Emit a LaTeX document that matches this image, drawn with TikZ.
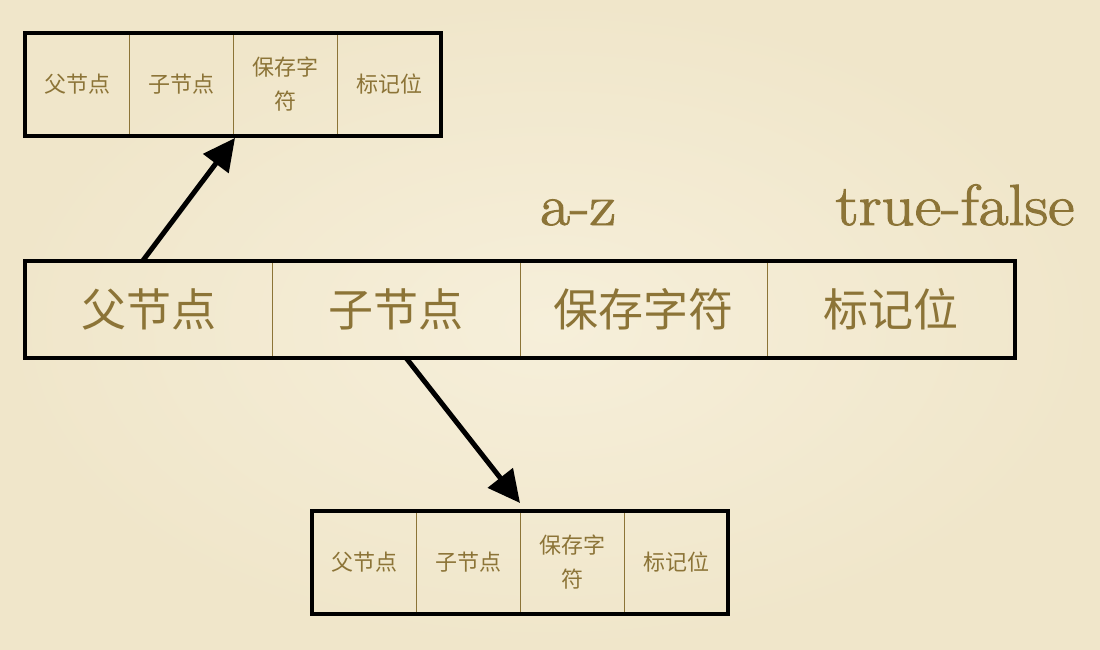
\documentclass[tikz,border=0pt]{standalone}
\usepackage{fontspec}
\newfontfamily\cjk{Noto Sans CJK SC}
\newfontfamily\latinbig[FakeBold=1.6]{Latin Modern Roman}
\usetikzlibrary{arrows.meta,calc,fit}
\definecolor{bgin}{HTML}{F6EFDA}
\definecolor{bgout}{HTML}{F0E6CA}
\definecolor{olive}{HTML}{8C7437}
\tikzset{
  cellbig/.style={draw=olive, line width=0.9pt, inner sep=0pt, outer sep=0pt,
    minimum width=247.5pt, minimum height=97pt, text=olive,
    font=\cjk\fontsize{45}{48}\selectfont},
  cellsmall/.style={draw=olive, line width=0.9pt, inner sep=0pt, outer sep=0pt,
    minimum width=104pt, minimum height=103pt, text=olive, align=center,
    font=\cjk\fontsize{22}{34}\selectfont},
  frame/.style={draw=black, line width=4pt, inner sep=0pt, outer sep=0pt},
  arr/.style={draw=black, line width=5pt, -{Triangle[length=32pt,width=31pt]}},
  biglabel/.style={text=olive, anchor=base, inner sep=0pt, font=\latinbig\fontsize{58}{62}\selectfont}
}
\begin{document}
\begin{tikzpicture}[x=1pt,y=-1pt]
\shade[inner color=bgin, outer color=bgout] (0,0) rectangle (1100,650);
\useasboundingbox (0,0) rectangle (1100,650);
% top box
\node[cellsmall] (t1) at (77,84.5) {父节点};
\node[cellsmall] (t2) at (181,84.5) {子节点};
\node[cellsmall] (t3) at (285,84.5) {保存字\\符};
\node[cellsmall] (t4) at (389,84.5) {标记位};
\node[frame, fit=(t1)(t4)] (top) {};
% middle box
\node[cellbig] (m1) at (148.75,309.5) {父节点};
\node[cellbig] (m2) at (396.25,309.5) {子节点};
\node[cellbig] (m3) at (643.75,309.5) {保存字符};
\node[cellbig] (m4) at (891.25,309.5) {标记位};
\node[frame, fit=(m1)(m4)] (mid) {};
% bottom box
\node[cellsmall] (b1) at (364,562.5) {父节点};
\node[cellsmall] (b2) at (468,562.5) {子节点};
\node[cellsmall] (b3) at (572,562.5) {保存字\\符};
\node[cellsmall] (b4) at (676,562.5) {标记位};
\node[frame, fit=(b1)(b4)] (bot) {};
% labels
\node[biglabel] (az) at (578,225) {\scalebox{1.12}[1]{a-z}};
\node[biglabel] (tf) at (955,225) {\scalebox{1.12}[1]{true-false}};
% arrows
\draw[arr] ($(m1.north west)!0.475!(m1.north east)$) -- ($(t3.south west)+(2,2)$);
\draw[arr] ($(m2.south west)!0.54!(m2.south east)$) -- ($(b3.north west)+(0,-8)$);
\end{tikzpicture}
\end{document}
